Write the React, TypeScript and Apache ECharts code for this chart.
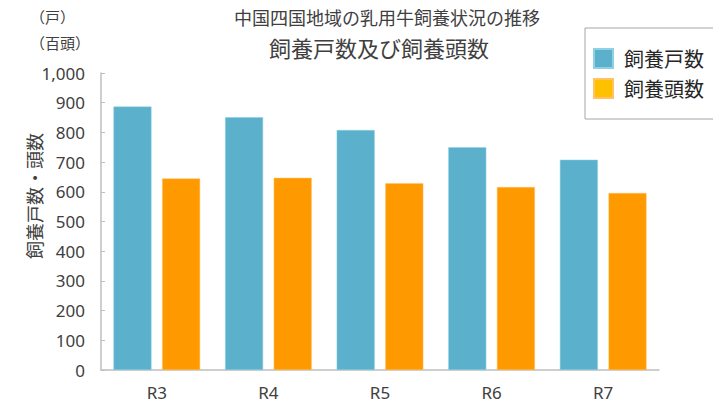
import React, { useEffect, useRef } from "react";
import * as echarts from "echarts";

const categories = ["R3", "R4", "R5", "R6", "R7"];
const farms = [887, 851, 808, 750, 708];
const headsHundreds = [645, 647, 629, 616, 596];
const seriesNames = ["飼養戸数", "飼養頭数"];
const yTicks = { min: 0, max: 1000, interval: 100 };
const titleMain = "中国四国地域の乳用牛飼養状況の推移";
const titleSub = "飼養戸数及び飼養頭数";
const yAxisName = "飼養戸数・頭数";
const unitLabels = ["（戸）", "（百頭）"];

const FONT = "'Noto Sans CJK JP', 'Noto Sans', sans-serif";
const NUM_FONT = "'Noto Sans', 'Noto Sans CJK JP', sans-serif";

export default function App() {
  const ref = useRef<HTMLDivElement>(null);
  useEffect(() => {
    if (!ref.current) return;
    const chart = echarts.init(ref.current, null, { renderer: "svg" });
    chart.setOption({
      animation: false,
      textStyle: { fontFamily: FONT },
      grid: { left: 101, right: 54, top: 73, bottom: 39, containLabel: false },
      legend: {
        orient: "vertical",
        left: 585,
        top: 28,
        padding: [20, 40, 20, 8],
        itemWidth: 19,
        itemHeight: 19,
        itemGap: 9,
        icon: "rect",
        borderColor: "#a6a6a6",
        borderWidth: 1,
        textStyle: { fontSize: 20, color: "#262626", fontFamily: FONT, padding: [0, 0, 0, 6] },
        data: [
          { name: seriesNames[0], itemStyle: { color: "#5BB1CB" } },
          { name: seriesNames[1], itemStyle: { color: "#FFC000" } },
        ],
      },
      graphic: [
        {
          type: "text",
          x: 387,
          y: 17,
          style: { text: titleMain, font: `18px ${FONT}`, fill: "#404040", align: "center", verticalAlign: "middle" },
        },
        {
          type: "text",
          x: 379,
          y: 47,
          style: { text: titleSub, font: `22px ${FONT}`, fill: "#404040", align: "center", verticalAlign: "middle" },
        },
        {
          type: "text",
          x: 30,
          y: 16,
          style: { text: unitLabels[0], font: `15px ${FONT}`, fill: "#404040", align: "left", verticalAlign: "middle" },
        },
        {
          type: "text",
          x: 30,
          y: 42,
          style: { text: unitLabels[1], font: `15px ${FONT}`, fill: "#404040", align: "left", verticalAlign: "middle" },
        },
        {
          type: "text",
          x: 34,
          y: 196,
          rotation: Math.PI / 2,
          style: { text: yAxisName, font: `18px ${FONT}`, fill: "#404040", align: "center", verticalAlign: "middle" },
        },
      ],
      xAxis: {
        type: "category",
        data: categories,
        axisTick: { show: false },
        axisLine: { lineStyle: { color: "#bfbfbf", width: 1.5 } },
        axisLabel: { fontSize: 17, color: "#404040", margin: 14, fontFamily: NUM_FONT },
      },
      yAxis: {
        type: "value",
        min: yTicks.min,
        max: yTicks.max,
        interval: yTicks.interval,
        axisLine: { show: true, lineStyle: { color: "#bfbfbf", width: 1.5 } },
        axisTick: { show: true, inside: true, length: 4, lineStyle: { color: "#bfbfbf" } },
        splitLine: { show: false },
        axisLabel: {
          fontSize: 17,
          color: "#404040",
          margin: 16,
          fontFamily: NUM_FONT,
          formatter: (v: number) => v.toLocaleString("en-US"),
        },
      },
      series: [
        {
          name: seriesNames[0],
          type: "bar",
          data: farms,
          barWidth: 38,
          barGap: "28%",
          itemStyle: { color: "#5BB1CB", borderColor: "#8fd0e3", borderWidth: 0.5 },
        },
        {
          name: seriesNames[1],
          type: "bar",
          data: headsHundreds,
          barWidth: 38,
          itemStyle: { color: "#FF9900", borderColor: "#ffc266", borderWidth: 0.5 },
        },
      ],
    });
    return () => chart.dispose();
  }, []);
  return <div ref={ref} style={{ width: 713, height: 409, position: "absolute", left: 0, top: 0 }} />;
}
